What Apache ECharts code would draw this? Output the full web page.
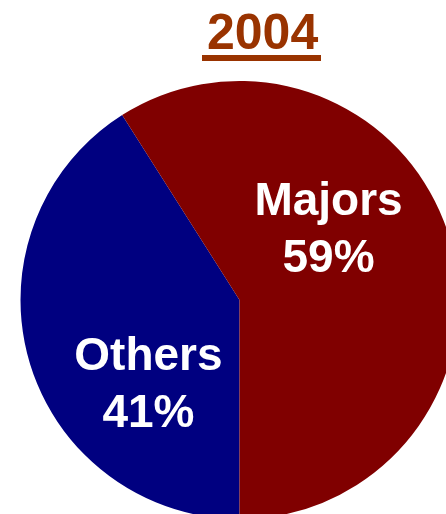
<!DOCTYPE html>
<html>
<head>
<meta charset="utf-8">
<script src="https://cdn.jsdelivr.net/npm/echarts@6/dist/echarts.min.js"></script>
<style>
  html, body { margin: 0; padding: 0; background: #fff; }
  #chart { width: 446px; height: 514px; }
</style>
</head>
<body>
<div id="chart"></div>
<script>
const titleText = '2004';
const categories = ['Others', 'Majors'];
const shares = [41, 59];
const sliceColors = ['#000080', '#800000'];

// label nudges away from the default "inside" anchor, per slice
const labelShift = [
  { dx: 17, dy: 54 },
  { dx: -19, dy: -38 }
];

const chart = echarts.init(document.getElementById('chart'));

chart.setOption({
  animation: false,
  title: {
    text: titleText,
    left: 202,
    top: 5,
    textStyle: {
      color: '#993300',
      fontSize: 50,
      fontWeight: 'bold',
      fontFamily: 'Liberation Sans, Arial, sans-serif'
    }
  },
  graphic: [
    {
      type: 'rect',
      shape: { x: 202, y: 55, width: 119, height: 6 },
      style: { fill: '#993300' }
    }
  ],
  series: [
    {
      type: 'pie',
      center: [239.5, 300],
      radius: 219,
      startAngle: 270,
      clockwise: true,
      silent: true,
      itemStyle: { borderWidth: 0 },
      label: {
        show: true,
        position: 'inside',
        formatter: (p) => p.name + '\n' + p.value + '%',
        color: '#fff',
        fontSize: 46,
        fontWeight: 'bold',
        lineHeight: 57,
        fontFamily: 'Liberation Sans, Arial, sans-serif'
      },
      labelLine: { show: false },
      labelLayout: (p) => labelShift[p.dataIndex],
      data: categories.map((name, i) => ({
        name,
        value: shares[i],
        itemStyle: { color: sliceColors[i] }
      }))
    }
  ]
});
</script>
</body>
</html>
